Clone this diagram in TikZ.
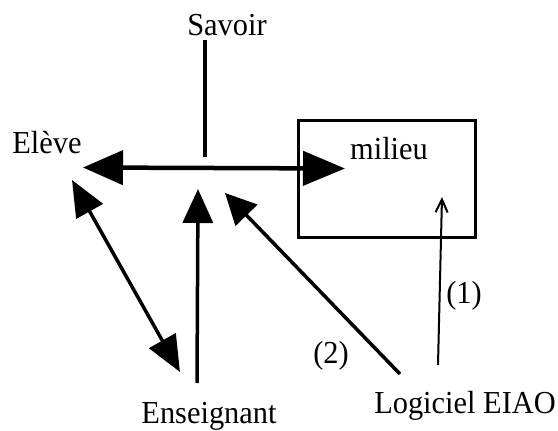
\documentclass[tikz,border=0pt]{standalone}
\usepackage{fontspec}
\setmainfont{Liberation Serif}[FakeStretch=0.95]
\usetikzlibrary{arrows.meta}
\begin{document}
\begin{tikzpicture}[x=1pt,y=-1pt,
  lbl/.style={inner sep=0pt,font=\fontsize{32}{38}\selectfont},
  midhead/.style={-{Triangle[length=34pt,width=30pt]}},
  thick1/.style={line width=3.5pt},
  boxstyle/.style={draw,line width=3pt,minimum width=177pt,minimum height=117pt,inner sep=0pt}]
\useasboundingbox (0,0) rectangle (558,431);
% texts
\node[lbl,anchor=base] (savoir) at (227,35) {Savoir};
\node[lbl,anchor=base] (eleve) at (47,153) {Elève};
\node[boxstyle] (box) at (386.5,178.5) {};
\node[lbl,anchor=base] (milieu) at (389,159) {milieu};
\node[lbl,anchor=base] (ens) at (209,423) {Enseignant};
\node[lbl,anchor=base] (log) at (465,413) {Logiciel EIAO};
\node[lbl] (un) at (464,296) {(1)};
\node[lbl] (deux) at (331,356) {(2)};
% coordinates
\coordinate (sTop) at (205,40);
\coordinate (sBot) at (205,157);
\coordinate (hL) at (83,167.5);
\coordinate (hR) at (345,168.5);
\coordinate (eTop) at (198,189);
\coordinate (eBot) at (197,383);
\coordinate (dTip) at (225,193);
\coordinate (dBot) at (400,374);
\coordinate (pTop) at (72,180);
\coordinate (pBot) at (180,372);
\coordinate (mTop) at (442,197);
\coordinate (mBot) at (438,365);
% connectors
\draw[thick1] (sTop) -- (sBot);
\draw[line width=4.5pt,{Triangle[length=40pt,width=34pt]}-{Triangle[length=42pt,width=34pt]}] (hL) -- (hR);
\draw[thick1,midhead] (eBot) -- (eTop);
\draw[thick1,-{Triangle[length=31pt,width=30pt]}] (dBot) -- (dTip);
\draw[thick1,{Triangle[length=36pt,width=30pt]}-{Triangle[length=36pt,width=30pt]}] (pTop) -- (pBot);
\draw[line width=2pt,-{Straight Barb[length=13pt,width=12pt]}] (mBot) -- (mTop);
\end{tikzpicture}
\end{document}
